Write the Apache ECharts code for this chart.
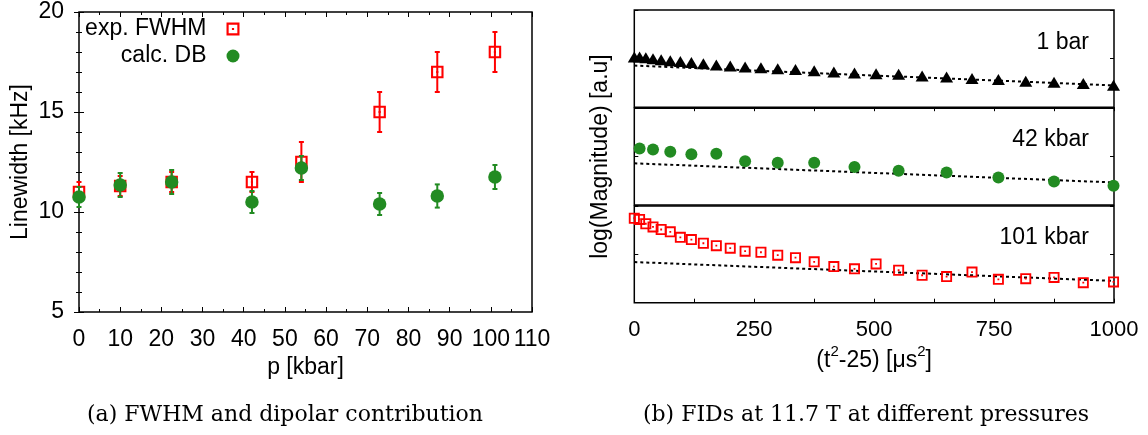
<!DOCTYPE html>
<html>
<head>
<meta charset="utf-8">
<script src="https://cdn.jsdelivr.net/npm/echarts@6/dist/echarts.min.js"></script>
<style>
html,body{margin:0;padding:0;background:#fff;}
#chart{width:1148px;height:435px;}
</style>
</head>
<body>
<div id="chart"></div>
<script>
// ---------- (a) Linewidth vs pressure ----------
const pressure = [0, 10, 22.5, 42, 54, 73, 87, 101];
const fwhm     = [11.0, 11.3, 11.5, 11.5, 12.5, 15.0, 17.0, 18.0];
const fwhmErr  = [0.5, 0.5, 0.5, 0.5, 1.0, 1.0, 1.0, 1.0];
const dbCalc   = [10.75, 11.35, 11.5, 10.5, 12.2, 10.4, 10.8, 11.75];
const dbErr    = [0.5, 0.6, 0.6, 0.55, 0.6, 0.55, 0.58, 0.6];

// ---------- (b) FIDs ----------
const timeSq   = [0, 11, 24, 39, 56, 75, 96, 119, 144, 171, 200, 231, 264, 299, 336, 375, 416, 459, 504, 551, 600, 651, 704, 759, 816, 875, 936, 999];
const mag1bar  = [5.16, 5.16, 5.09, 4.98, 4.88, 4.78, 4.71, 4.61, 4.47, 4.34, 4.24, 4.14, 4.06, 3.96, 3.89, 3.76, 3.62, 3.52, 3.45, 3.38, 3.22, 3.11, 2.94, 2.84, 2.68, 2.56, 2.43, 2.27];
const timeSq42 = [11, 39, 75, 119, 171, 231, 299, 375, 459, 551, 651, 759, 875, 999];
const mag42    = [5.84, 5.74, 5.49, 5.23, 5.29, 4.51, 4.36, 4.36, 3.92, 3.52, 3.34, 2.83, 2.42, 1.98];
const mag101   = [8.72, 8.60, 8.16, 7.83, 7.56, 7.32, 6.75, 6.52, 6.14, 5.89, 5.63, 5.32, 5.21, 4.91, 4.65, 4.22, 3.73, 3.50, 4.01, 3.35, 2.84, 2.70, 3.16, 2.41, 2.48, 2.61, 2.07, 2.15];
const fitX     = [0, 1000];
const fit1bar  = [4.28, 2.24];
const fit42    = [4.30, 2.32];
const fit101   = [4.20, 2.25];

const xTicksA = [0, 110, 10];   // min, max, interval
const yTicksA = [5, 20, 5];
const xTicksB = [0, 1000, 125];
const xLabelStepB = 250;

const SANS = '"Liberation Sans", Arial, Helvetica, sans-serif';
const SERIF = '"DejaVu Serif", serif';
const RED = '#ff0000';
const GREEN = '#228b22';
const SQ = 'path://M0,0H12V12H0Z M2,2V10H10V2Z M5,5H7V7H5Z';

const zip = (a, b) => a.map((v, i) => [v, b[i]]);
const zip3 = (a, b, c) => a.map((v, i) => [v, b[i], c[i]]);

function errRender(color) {
  return function (params, api) {
    const x = api.value(0), y = api.value(1), e = api.value(2);
    const t = api.coord([x, y + e]);
    const b = api.coord([x, y - e]);
    const cap = 2.5;
    const st = { stroke: color, lineWidth: 2 };
    return {
      type: 'group',
      children: [
        { type: 'line', shape: { x1: t[0], y1: t[1], x2: b[0], y2: b[1] }, style: st },
        { type: 'line', shape: { x1: t[0] - cap, y1: t[1], x2: t[0] + cap, y2: t[1] }, style: st },
        { type: 'line', shape: { x1: b[0] - cap, y1: b[1], x2: b[0] + cap, y2: b[1] }, style: st }
      ]
    };
  };
}

const tickIn = (len) => ({ show: true, inside: true, length: len, lineStyle: { color: '#000', width: 1 } });
const noLine = { show: false };
const noSplit = { show: false };

const gridBox = { show: true, borderColor: '#000', borderWidth: 1.5, backgroundColor: 'transparent', containLabel: false, outerBoundsMode: 'none' };

const option = {
  animation: false,
  backgroundColor: '#fff',
  grid: [
    Object.assign({ left: 79, top: 12, width: 453, height: 300 }, gridBox),
    Object.assign({ left: 634.3, top: 10, width: 479.7, height: 97.2 }, gridBox),
    Object.assign({ left: 634.3, top: 108.2, width: 479.7, height: 96.7 }, gridBox),
    Object.assign({ left: 634.3, top: 205.9, width: 479.7, height: 96.8 }, gridBox)
  ],
  legend: {
    orient: 'vertical',
    align: 'right',
    right: 908.5,
    top: 17.5,
    padding: 0,
    itemGap: 4,
    itemWidth: 13,
    itemHeight: 13,
    selectedMode: false,
    textStyle: { fontFamily: SANS, fontSize: 23, color: '#000', padding: [0, 15, 0, 0] },
    data: [
      { name: 'exp. FWHM', icon: SQ, itemStyle: { color: RED } },
      { name: 'calc. DB', icon: 'circle', itemStyle: { color: GREEN } }
    ]
  },
  xAxis: [
    { type: 'value', gridIndex: 0, position: 'bottom', min: xTicksA[0], max: xTicksA[1], interval: xTicksA[2],
      name: 'p [kbar]', nameLocation: 'middle', nameGap: 43,
      nameTextStyle: { fontFamily: SANS, fontSize: 23, color: '#000' },
      axisLine: noLine, splitLine: noSplit, axisTick: tickIn(5),
      minorTick: { show: true, splitNumber: 2, length: 3, lineStyle: { color: '#000' } },
      axisLabel: { fontFamily: SANS, fontSize: 23, color: '#000', margin: 16 } },
    { type: 'value', gridIndex: 0, position: 'top', min: xTicksA[0], max: xTicksA[1], interval: xTicksA[2],
      axisLine: noLine, splitLine: noSplit, axisTick: tickIn(5), axisLabel: { show: false },
      minorTick: { show: true, splitNumber: 2, length: 3, lineStyle: { color: '#000' } } },
    { type: 'value', gridIndex: 1, position: 'top', min: xTicksB[0], max: xTicksB[1], interval: xTicksB[2],
      axisLine: noLine, splitLine: noSplit, axisTick: tickIn(4), axisLabel: { show: false } },
    { type: 'value', gridIndex: 2, position: 'bottom', min: xTicksB[0], max: xTicksB[1], interval: xTicksB[2],
      axisLine: noLine, splitLine: noSplit, axisTick: { show: false }, axisLabel: { show: false } },
    { type: 'value', gridIndex: 3, position: 'bottom', min: xTicksB[0], max: xTicksB[1], interval: xTicksB[2],
      name: '{a|(t}{s|2}{a|-25) [μs}{s|2}{a|]}', nameLocation: 'middle', nameGap: 42,
      nameTextStyle: {
        fontFamily: SANS, fontSize: 23, color: '#000',
        rich: {
          a: { fontFamily: SANS, fontSize: 23, color: '#000', lineHeight: 27, verticalAlign: 'bottom' },
          s: { fontFamily: SANS, fontSize: 15, color: '#000', lineHeight: 15, verticalAlign: 'top' }
        }
      },
      axisLine: noLine, splitLine: noSplit, axisTick: tickIn(4),
      axisLabel: { fontFamily: SANS, fontSize: 22, color: '#000', margin: 16,
        formatter: v => (v % xLabelStepB === 0 ? String(v) : '') } }
  ],
  yAxis: [
    { type: 'value', gridIndex: 0, position: 'left', min: yTicksA[0], max: yTicksA[1], interval: yTicksA[2],
      name: 'Linewidth [kHz]', nameLocation: 'middle', nameGap: 47,
      nameTextStyle: { fontFamily: SANS, fontSize: 23, color: '#000' },
      axisLine: noLine, splitLine: noSplit, axisTick: tickIn(5),
      minorTick: { show: true, splitNumber: 5, length: 3, lineStyle: { color: '#000' } },
      axisLabel: { fontFamily: SANS, fontSize: 23, color: '#000', margin: 15 } },
    { type: 'value', gridIndex: 0, position: 'right', min: yTicksA[0], max: yTicksA[1], interval: yTicksA[2],
      axisLine: noLine, splitLine: noSplit, axisTick: tickIn(5), axisLabel: { show: false },
      minorTick: { show: true, splitNumber: 5, length: 3, lineStyle: { color: '#000' } } },
    { type: 'value', gridIndex: 1, position: 'left', min: 0, max: 10, interval: 5,
      axisLine: noLine, splitLine: noSplit, axisTick: tickIn(4), axisLabel: { show: false } },
    { type: 'value', gridIndex: 1, position: 'right', min: 0, max: 10, interval: 5,
      axisLine: noLine, splitLine: noSplit, axisTick: tickIn(4), axisLabel: { show: false } },
    { type: 'value', gridIndex: 2, position: 'left', min: 0, max: 10, interval: 5,
      name: 'log(Magnitude) [a.u]', nameLocation: 'middle', nameGap: 22,
      nameTextStyle: { fontFamily: SANS, fontSize: 23, color: '#000' },
      axisLine: noLine, splitLine: noSplit, axisTick: tickIn(4), axisLabel: { show: false } },
    { type: 'value', gridIndex: 2, position: 'right', min: 0, max: 10, interval: 5,
      axisLine: noLine, splitLine: noSplit, axisTick: tickIn(4), axisLabel: { show: false } },
    { type: 'value', gridIndex: 3, position: 'left', min: 0, max: 10, interval: 5,
      axisLine: noLine, splitLine: noSplit, axisTick: tickIn(4), axisLabel: { show: false } },
    { type: 'value', gridIndex: 3, position: 'right', min: 0, max: 10, interval: 5,
      axisLine: noLine, splitLine: noSplit, axisTick: tickIn(4), axisLabel: { show: false } }
  ],
  series: [
    { name: 'FWHM err', type: 'custom', xAxisIndex: 0, yAxisIndex: 0,
      data: zip3(pressure, fwhm, fwhmErr), encode: { x: 0, y: 1 }, renderItem: errRender(RED), z: 2 },
    { name: 'exp. FWHM', type: 'scatter', xAxisIndex: 0, yAxisIndex: 0,
      data: zip(pressure, fwhm), symbol: SQ, symbolSize: 12.5, itemStyle: { color: RED, opacity: 1 }, z: 3 },
    { name: 'DB err', type: 'custom', xAxisIndex: 0, yAxisIndex: 0,
      data: zip3(pressure, dbCalc, dbErr), encode: { x: 0, y: 1 }, renderItem: errRender(GREEN), z: 4 },
    { name: 'calc. DB', type: 'scatter', xAxisIndex: 0, yAxisIndex: 0,
      data: zip(pressure, dbCalc), symbol: 'circle', symbolSize: 13.5, itemStyle: { color: GREEN, opacity: 1 }, z: 5 },

    { name: 'fit 1 bar', type: 'line', xAxisIndex: 2, yAxisIndex: 2, data: zip(fitX, fit1bar),
      showSymbol: false, symbol: 'none', lineStyle: { color: '#000', width: 2, type: [3, 3] }, z: 2 },
    { name: '1 bar', type: 'scatter', xAxisIndex: 2, yAxisIndex: 2, data: zip(timeSq, mag1bar),
      symbol: 'triangle', symbolSize: [13, 11], itemStyle: { color: '#000', opacity: 1 }, z: 3 },

    { name: 'fit 42 kbar', type: 'line', xAxisIndex: 3, yAxisIndex: 4, data: zip(fitX, fit42),
      showSymbol: false, symbol: 'none', lineStyle: { color: '#000', width: 2, type: [3, 3] }, z: 2 },
    { name: '42 kbar', type: 'scatter', xAxisIndex: 3, yAxisIndex: 4, data: zip(timeSq42, mag42),
      symbol: 'circle', symbolSize: 12, itemStyle: { color: GREEN, opacity: 1 }, z: 3 },

    { name: 'fit 101 kbar', type: 'line', xAxisIndex: 4, yAxisIndex: 6, data: zip(fitX, fit101),
      showSymbol: false, symbol: 'none', lineStyle: { color: '#000', width: 2, type: [3, 3] }, z: 2 },
    { name: '101 kbar', type: 'scatter', xAxisIndex: 4, yAxisIndex: 6, data: zip(timeSq, mag101),
      symbol: SQ, symbolSize: 11, itemStyle: { color: RED, opacity: 1 }, z: 3 }
  ],
  graphic: [
    { type: 'text', x: 1089, y: 43, style: { text: '1 bar', fontFamily: SANS, fontSize: 23, fill: '#000', align: 'right', verticalAlign: 'middle' } },
    { type: 'text', x: 1089, y: 140, style: { text: '42 kbar', fontFamily: SANS, fontSize: 23, fill: '#000', align: 'right', verticalAlign: 'middle' } },
    { type: 'text', x: 1089, y: 238, style: { text: '101 kbar', fontFamily: SANS, fontSize: 23, fill: '#000', align: 'right', verticalAlign: 'middle' } },
    { type: 'text', x: 285, y: 415, style: { text: '(a) FWHM and dipolar contribution', fontFamily: SERIF, fontSize: 22, fill: '#000', align: 'center', verticalAlign: 'middle' } },
    { type: 'text', x: 866, y: 415, style: { text: '(b) FIDs at 11.7 T at different pressures', fontFamily: SERIF, fontSize: 22, fill: '#000', align: 'center', verticalAlign: 'middle' } }
  ]
};

const chart = echarts.init(document.getElementById('chart'), null, { renderer: 'canvas' });
chart.setOption(option);
</script>
</body>
</html>
